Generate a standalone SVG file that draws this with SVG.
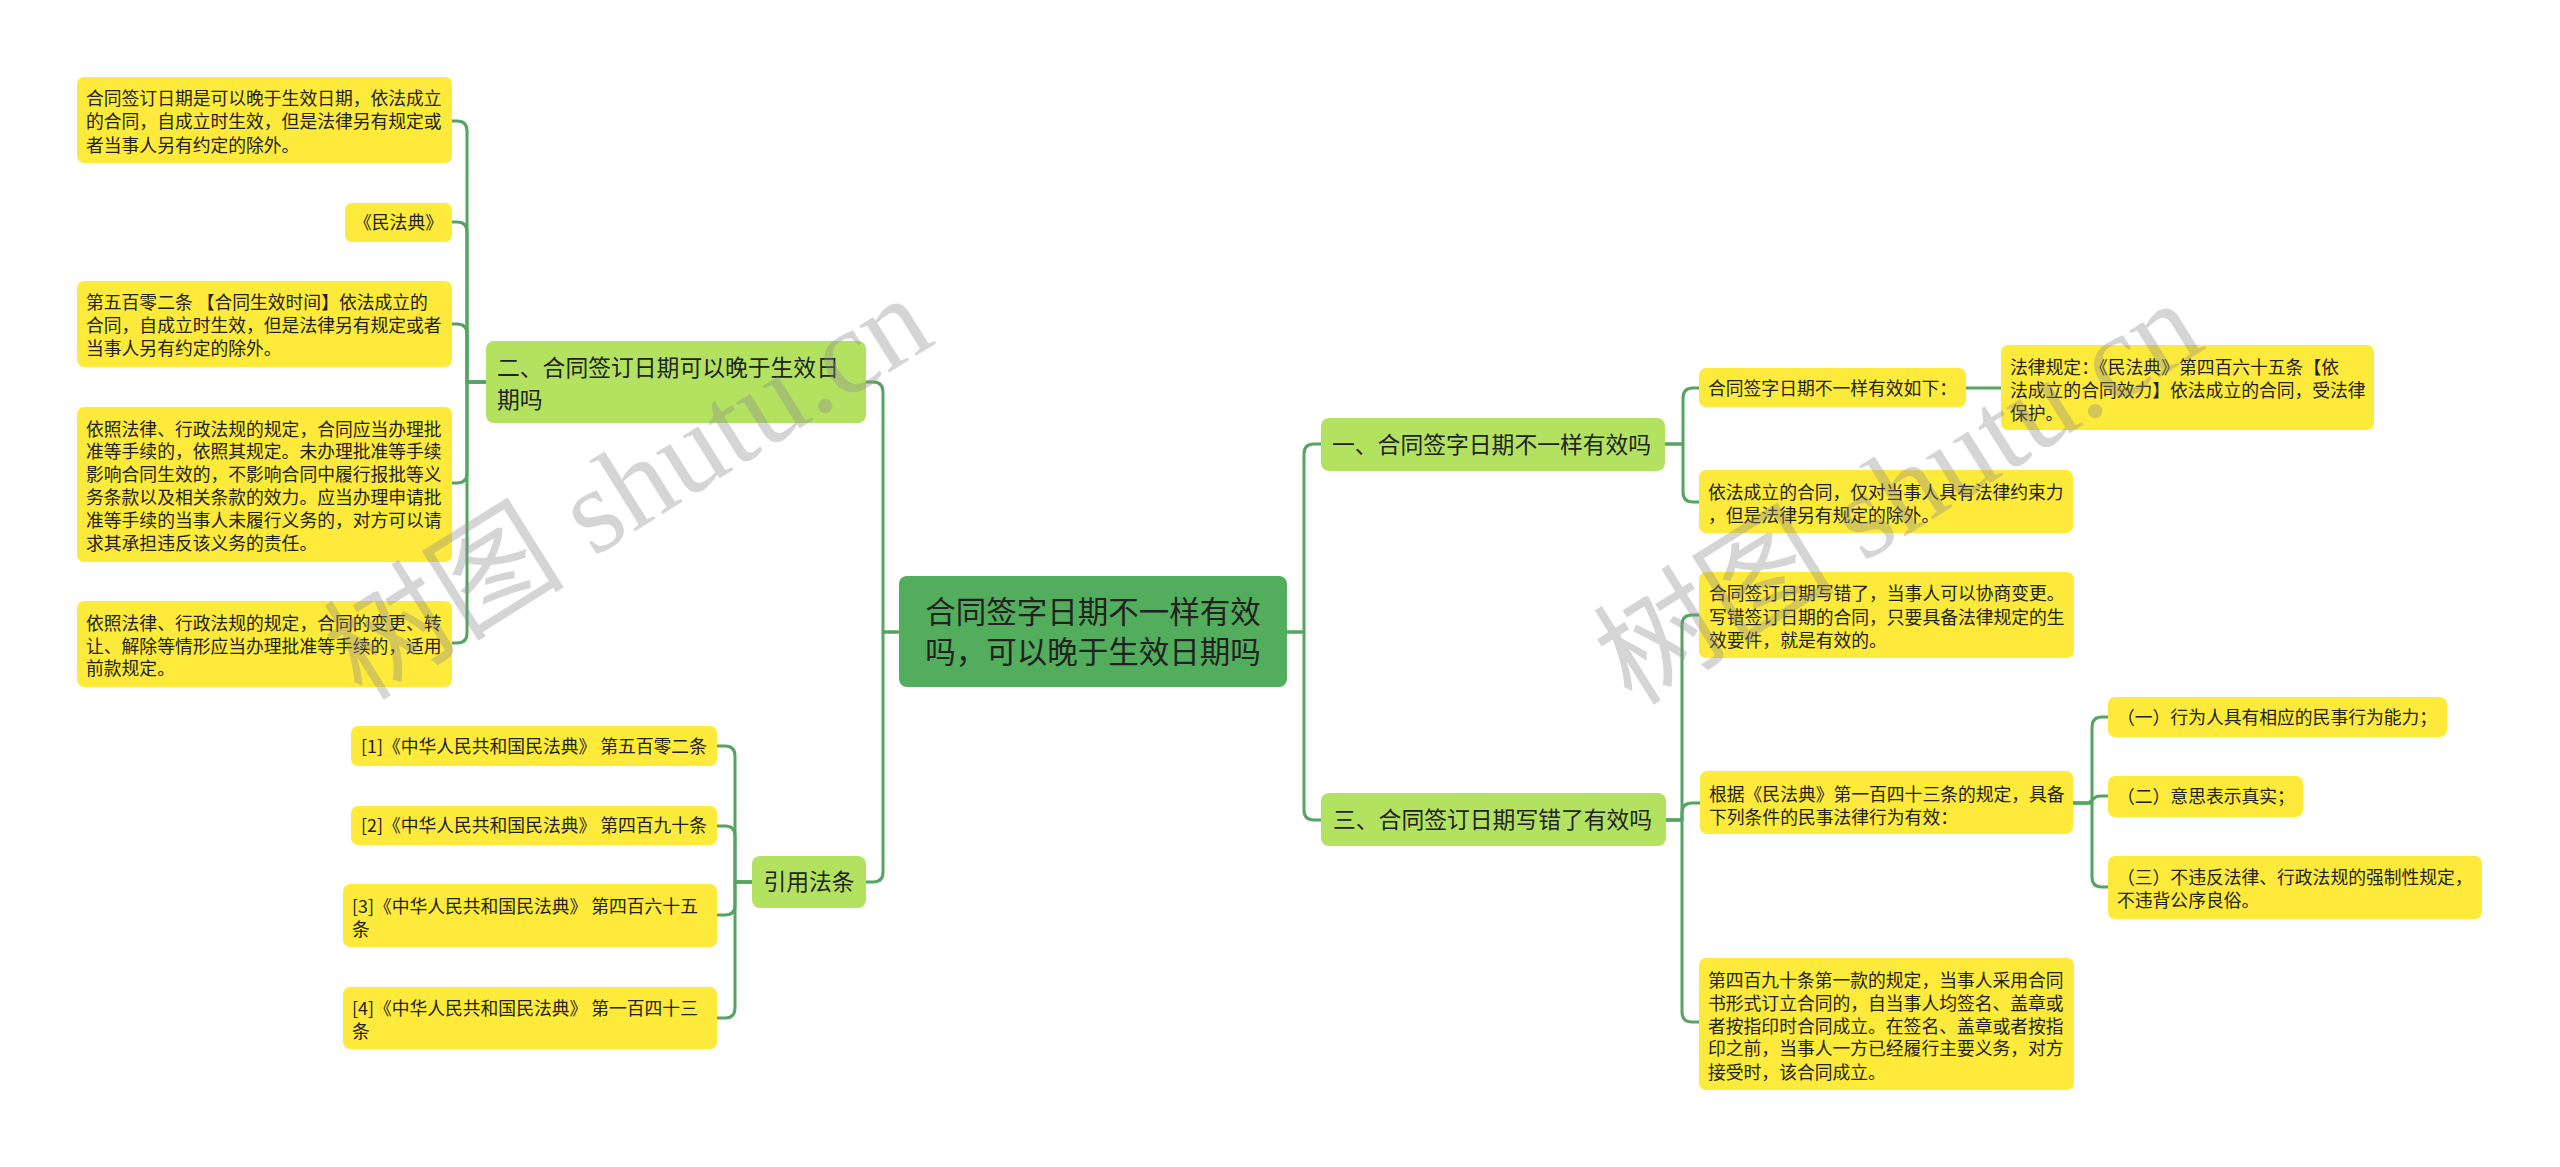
<svg xmlns="http://www.w3.org/2000/svg" width="2560" height="1167" viewBox="0 0 2560 1167">
<style>
text{font-family:"Noto Sans CJK SC","Noto Sans",sans-serif;fill:#222;}
.y{fill:#fdea3a;}
.g{fill:#b3e261;}
.c{fill:#52ad5c;}
.t{font-size:17.8px;}
.m{font-size:22.8px;}
.big{font-size:30.5px;}
.ln{fill:none;stroke:#55a462;stroke-width:3;stroke-linecap:round;stroke-linejoin:round;}
.wm{font-family:"Liberation Serif","Noto Sans CJK SC",serif;font-size:121px;fill:#8a8a8a;fill-opacity:0.36;}
</style>
<rect width="2560" height="1167" fill="#ffffff"/>
<g id="connectors">
<path class="ln" d="M899 632 H883 V392 Q883 382 873 382 H866"/>
<path class="ln" d="M899 632 H883 V872 Q883 882 873 882 H866"/>
<path class="ln" d="M486 382 H467 V131 Q467 121 457 121 H452"/>
<path class="ln" d="M486 382 H467 V232 Q467 222 457 222 H452"/>
<path class="ln" d="M486 382 H467 V334 Q467 324 457 324 H452"/>
<path class="ln" d="M486 382 H467 V473 Q467 483 457 483 H452"/>
<path class="ln" d="M486 382 H467 V633 Q467 643 457 643 H452"/>
<path class="ln" d="M752 882 H735 V756 Q735 746 725 746 H717"/>
<path class="ln" d="M752 882 H735 V836 Q735 826 725 826 H717"/>
<path class="ln" d="M752 882 H735 V905 Q735 915 725 915 H717"/>
<path class="ln" d="M752 882 H735 V1008 Q735 1018 725 1018 H717"/>
<path class="ln" d="M1287 632 H1304 V454 Q1304 444 1314 444 H1321"/>
<path class="ln" d="M1287 632 H1304 V810 Q1304 820 1314 820 H1321"/>
<path class="ln" d="M1665 444 H1683 V398 Q1683 388 1693 388 H1699"/>
<path class="ln" d="M1665 444 H1683 V492 Q1683 502 1693 502 H1699"/>
<path class="ln" d="M1966 388 H2001"/>
<path class="ln" d="M1666 820 H1682 V625 Q1682 615 1692 615 H1699"/>
<path class="ln" d="M1666 820 H1682 V813 Q1682 803 1692 803 H1700"/>
<path class="ln" d="M1666 820 H1682 V1012 Q1682 1022 1692 1022 H1699"/>
<path class="ln" d="M2073 803 H2092 V727 Q2092 717 2102 717 H2108"/>
<path class="ln" d="M2073 803 H2086 C2093 803 2092 796 2100 796 H2108"/>
<path class="ln" d="M2073 803 H2092 V877 Q2092 887 2102 887 H2108"/>
</g>
<g id="center">
<rect class="c" x="899" y="576" width="388" height="111" rx="8"/>
<text class="big" x="1093" y="623" text-anchor="middle">合同签字日期不一样有效</text>
<text class="big" x="1093" y="663" text-anchor="middle">吗，可以晚于生效日期吗</text>
</g>
<g id="branch2">
<rect class="g" x="486" y="341" width="380" height="82" rx="8"/>
<text class="m" x="497" y="376">二、合同签订日期可以晚于生效日</text>
<text class="m" x="497" y="408">期吗</text>
</g>
<g id="n2a">
<rect class="y" x="77" y="77" width="375" height="86" rx="7"/>
<text class="t" x="86" y="104.5">合同签订日期是可以晚于生效日期，依法成立</text>
<text class="t" x="86" y="128">的合同，自成立时生效，但是法律另有规定或</text>
<text class="t" x="86" y="151.5">者当事人另有约定的除外。</text>
</g>
<g id="n2b">
<rect class="y" x="345" y="203" width="107" height="39" rx="7"/>
<text class="t" x="398.5" y="228.5" text-anchor="middle">《民法典》</text>
</g>
<g id="n2c">
<rect class="y" x="77" y="281" width="375" height="86" rx="7"/>
<text class="t" x="86" y="308.5">第五百零二条 【合同生效时间】依法成立的</text>
<text class="t" x="86" y="332">合同，自成立时生效，但是法律另有规定或者</text>
<text class="t" x="86" y="355">当事人另有约定的除外。</text>
</g>
<g id="n2d">
<rect class="y" x="77" y="407" width="375" height="155" rx="7"/>
<text class="t" x="86" y="435.5">依照法律、行政法规的规定，合同应当办理批</text>
<text class="t" x="86" y="458">准等手续的，依照其规定。未办理批准等手续</text>
<text class="t" x="86" y="481">影响合同生效的，不影响合同中履行报批等义</text>
<text class="t" x="86" y="504">务条款以及相关条款的效力。应当办理申请批</text>
<text class="t" x="86" y="527">准等手续的当事人未履行义务的，对方可以请</text>
<text class="t" x="86" y="550">求其承担违反该义务的责任。</text>
</g>
<g id="n2e">
<rect class="y" x="77" y="601" width="375" height="86" rx="7"/>
<text class="t" x="86" y="629.5">依照法律、行政法规的规定，合同的变更、转</text>
<text class="t" x="86" y="652.5">让、解除等情形应当办理批准等手续的，适用</text>
<text class="t" x="86" y="675">前款规定。</text>
</g>
<g id="refs">
<rect class="g" x="752" y="856" width="114" height="52" rx="8"/>
<text class="m" x="809" y="890" text-anchor="middle">引用法条</text>
</g>
<g id="ref1">
<rect class="y" x="351" y="726" width="366" height="40" rx="7"/>
<text class="t" x="361" y="752.5">[1]《中华人民共和国民法典》 第五百零二条</text>
</g>
<g id="ref2">
<rect class="y" x="351" y="806" width="366" height="39" rx="7"/>
<text class="t" x="361" y="832">[2]《中华人民共和国民法典》 第四百九十条</text>
</g>
<g id="ref3">
<rect class="y" x="343" y="884" width="374" height="63" rx="7"/>
<text class="t" x="352" y="912.5">[3]《中华人民共和国民法典》 第四百六十五</text>
<text class="t" x="352" y="935.5">条</text>
</g>
<g id="ref4">
<rect class="y" x="343" y="987" width="374" height="62" rx="7"/>
<text class="t" x="352" y="1014.5">[4]《中华人民共和国民法典》 第一百四十三</text>
<text class="t" x="352" y="1038">条</text>
</g>
<g id="branch1">
<rect class="g" x="1321" y="418" width="344" height="53" rx="8"/>
<text class="m" x="1332" y="452.5">一、合同签字日期不一样有效吗</text>
</g>
<g id="n1a">
<rect class="y" x="1699" y="368" width="267" height="39" rx="7"/>
<text class="t" x="1708" y="394.5">合同签字日期不一样有效如下：</text>
</g>
<g id="n1a1">
<rect class="y" x="2001" y="345" width="373" height="85" rx="7"/>
<text class="t" x="2010" y="373.5">法律规定：《民法典》第四百六十五条【依</text>
<text class="t" x="2010" y="396.5">法成立的合同效力】依法成立的合同，受法律</text>
<text class="t" x="2010" y="419.5">保护。</text>
</g>
<g id="n1b">
<rect class="y" x="1699" y="470" width="374" height="63" rx="7"/>
<text class="t" x="1708" y="498.5">依法成立的合同，仅对当事人具有法律约束力</text>
<text class="t" x="1708" y="521.5">，但是法律另有规定的除外。</text>
</g>
<g id="branch3">
<rect class="g" x="1321" y="793" width="345" height="53" rx="8"/>
<text class="m" x="1333" y="828">三、合同签订日期写错了有效吗</text>
</g>
<g id="n3a">
<rect class="y" x="1699" y="572" width="375" height="86" rx="7"/>
<text class="t" x="1709" y="599.5">合同签订日期写错了，当事人可以协商变更。</text>
<text class="t" x="1709" y="623.5">写错签订日期的合同，只要具备法律规定的生</text>
<text class="t" x="1709" y="646.5">效要件，就是有效的。</text>
</g>
<g id="n3b">
<rect class="y" x="1700" y="771" width="373" height="63" rx="7"/>
<text class="t" x="1709" y="800.5">根据《民法典》第一百四十三条的规定，具备</text>
<text class="t" x="1709" y="823.5">下列条件的民事法律行为有效：</text>
</g>
<g id="n3b1">
<rect class="y" x="2108" y="697" width="339" height="40" rx="7"/>
<text class="t" x="2117" y="723.5">（一）行为人具有相应的民事行为能力；</text>
</g>
<g id="n3b2">
<rect class="y" x="2108" y="776" width="195" height="41" rx="7"/>
<text class="t" x="2117" y="802.5">（二）意思表示真实；</text>
</g>
<g id="n3b3">
<rect class="y" x="2108" y="856" width="374" height="63" rx="7"/>
<text class="t" x="2117" y="883.5">（三）不违反法律、行政法规的强制性规定，</text>
<text class="t" x="2117" y="906.5">不违背公序良俗。</text>
</g>
<g id="n3c">
<rect class="y" x="1699" y="958" width="375" height="132" rx="7"/>
<text class="t" x="1708" y="986.5">第四百九十条第一款的规定，当事人采用合同</text>
<text class="t" x="1708" y="1009.5">书形式订立合同的，自当事人均签名、盖章或</text>
<text class="t" x="1708" y="1032.5">者按指印时合同成立。在签名、盖章或者按指</text>
<text class="t" x="1708" y="1055">印之前，当事人一方已经履行主要义务，对方</text>
<text class="t" x="1708" y="1078.5">接受时，该合同成立。</text>
</g>
<g id="watermark">
<text class="wm" transform="translate(362,702) rotate(-32)">树图 shutu.cn</text>
<text class="wm" transform="translate(1632,707) rotate(-32)">树图 shutu.cn</text>
</g>
</svg>
